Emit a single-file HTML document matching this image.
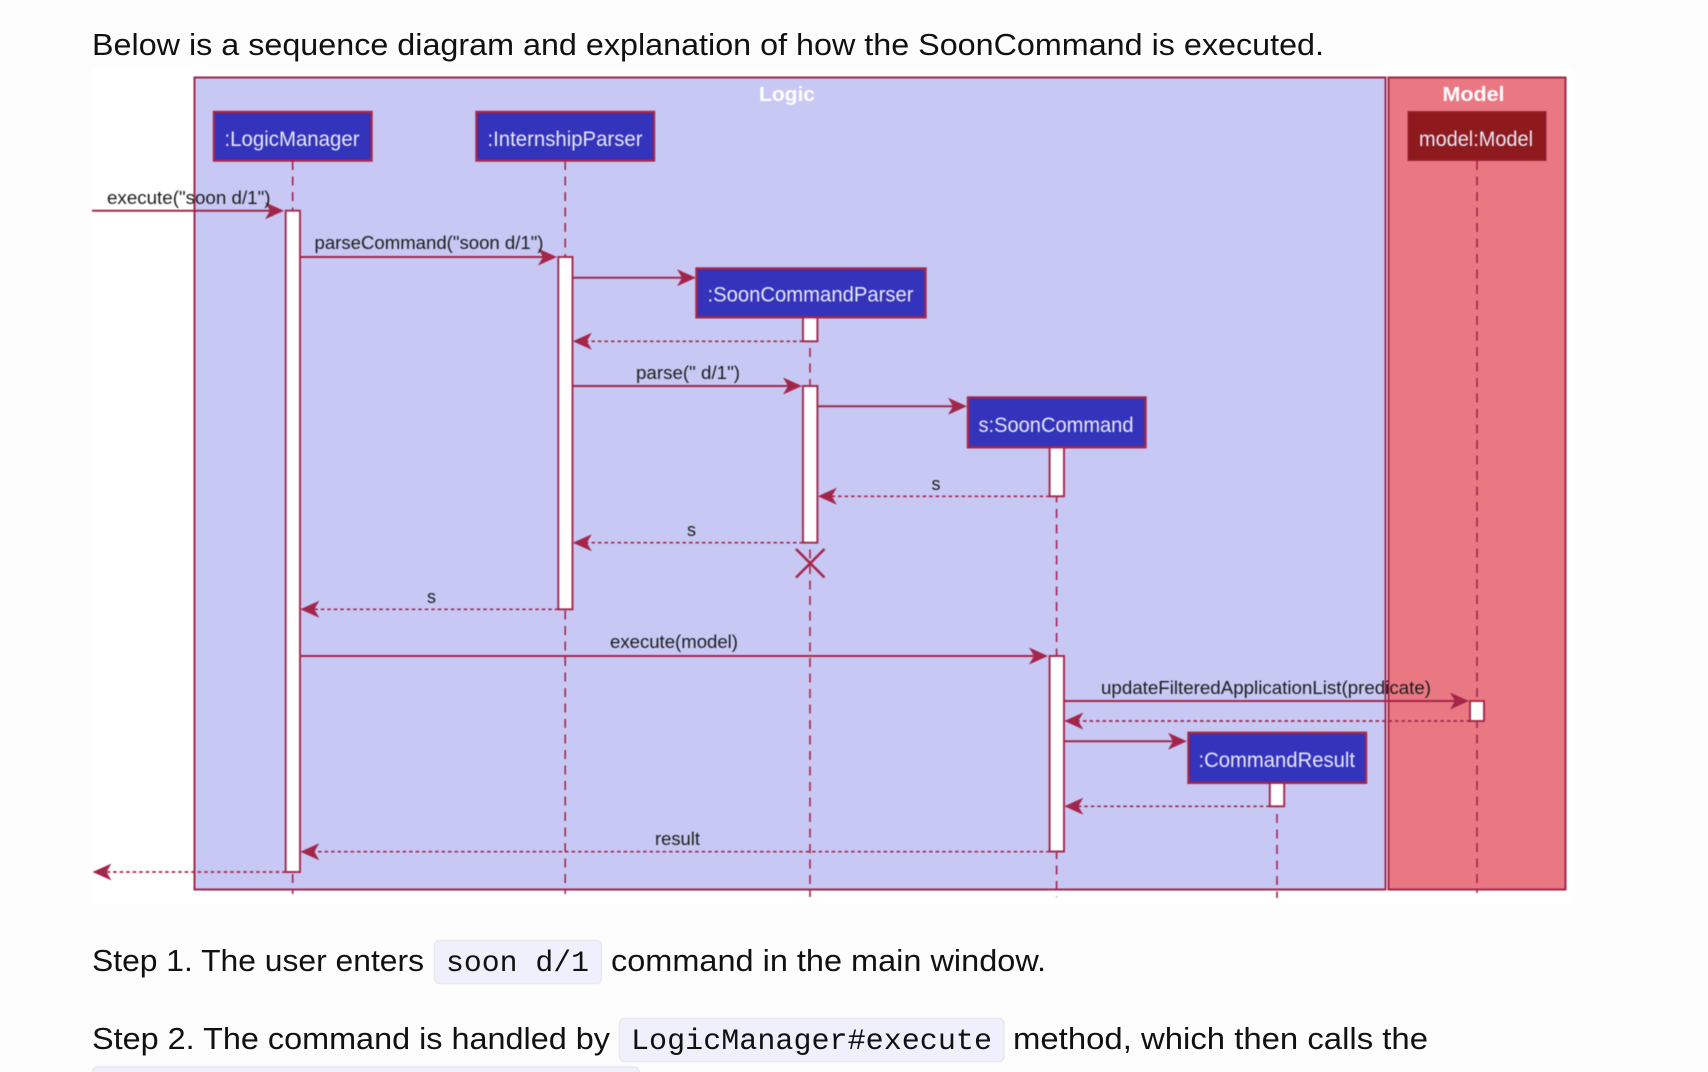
<!DOCTYPE html>
<html lang="en">
<head>
<meta charset="utf-8">
<title>SoonCommand sequence diagram</title>
<style>
html,body{margin:0;padding:0;background:#fdfdfd;width:1708px;height:1072px;overflow:hidden}
svg{display:block;position:absolute;left:0;top:0}
.d{filter:blur(.55px)}
.p{font-family:"Liberation Sans",sans-serif;font-size:31px;fill:#111}
.c{font-family:"Liberation Mono",monospace;font-size:30px;fill:#111}
.l{font-family:"Liberation Sans",sans-serif;font-size:18.5px;fill:#1c1c1c}
.n{font-family:"Liberation Sans",sans-serif;font-size:21px;fill:#e8e8fa}
.t{font-family:"Liberation Sans",sans-serif;font-size:20px;font-weight:bold;fill:#fff}
.ll{stroke:#a3234f;stroke-width:1.6;stroke-dasharray:9 6.5;fill:none}
.box{fill:#3333bb;stroke:#a3264a;stroke-width:2.4}
.act{fill:#fff;stroke:#a3264a;stroke-width:1.9}
.m{stroke:#a3264a;stroke-width:2;fill:none}
.r{stroke:#a3264a;stroke-width:1.7;stroke-dasharray:3.5 3;fill:none}
.h{fill:#a3264a;stroke:none}
</style>
</head>
<body>
<svg width="1708" height="1072" viewBox="0 0 1708 1072" xmlns="http://www.w3.org/2000/svg">
<rect x="92" y="68" width="1480" height="837" fill="#fff"/>
<text class="p" x="92" y="55" textLength="1232" lengthAdjust="spacingAndGlyphs">Below is a sequence diagram and explanation of how the SoonCommand is executed.</text>

<g class="d">
<rect x="194.500" y="77.500" width="1191" height="812" fill="#c8c8f5" stroke="#a3264a" stroke-width="2"/>
<rect x="1388.500" y="77.500" width="177" height="812" fill="#e97882" stroke="#a3264a" stroke-width="2"/>
<text class="t" x="759" y="101" textLength="56" lengthAdjust="spacingAndGlyphs">Logic</text>
<text class="t" x="1442.500" y="101" textLength="62" lengthAdjust="spacingAndGlyphs">Model</text>

<path class="ll" d="M292.700 161V894"/>
<path class="ll" d="M565.200 161V894"/>
<path class="ll" d="M810 317V897"/>
<path class="ll" d="M1056.600 447V897"/>
<path class="ll" d="M1277 783V898"/>
<path class="ll" d="M1477 161V893"/>

<rect class="box" x="214" y="112" width="157.500" height="48.500"/>
<rect class="box" x="476.500" y="112" width="177.500" height="48.500"/>
<rect class="box" x="696.500" y="268.500" width="229" height="48.800"/>
<rect class="box" x="968" y="397.500" width="177.500" height="49.800"/>
<rect class="box" x="1188.500" y="732.800" width="177.500" height="50"/>
<rect x="1408" y="111.500" width="138" height="49" fill="#8f1a1d" stroke="#a0243a" stroke-width="1"/>

<text class="n" x="224.500" y="146" textLength="135" lengthAdjust="spacingAndGlyphs">:LogicManager</text>
<text class="n" x="487.500" y="146" textLength="155" lengthAdjust="spacingAndGlyphs">:InternshipParser</text>
<text class="n" x="707.500" y="301.500" textLength="206" lengthAdjust="spacingAndGlyphs">:SoonCommandParser</text>
<text class="n" x="978.500" y="432" textLength="155" lengthAdjust="spacingAndGlyphs">s:SoonCommand</text>
<text class="n" x="1198.500" y="767" textLength="156.500" lengthAdjust="spacingAndGlyphs">:CommandResult</text>
<text class="n" x="1419" y="146" textLength="114" lengthAdjust="spacingAndGlyphs">model:Model</text>

<rect class="act" x="285.700" y="210.700" width="14.300" height="661.300"/>
<rect class="act" x="558.300" y="257" width="14.200" height="352.300"/>
<rect class="act" x="803" y="317.500" width="14.400" height="23.800"/>
<rect class="act" x="803" y="386" width="14.400" height="156.700"/>
<rect class="act" x="1049.600" y="447.500" width="14.400" height="48.800"/>
<rect class="act" x="1049.600" y="656" width="14.400" height="195.500"/>
<rect class="act" x="1470" y="701" width="14" height="20"/>
<rect class="act" x="1269.800" y="783" width="14.400" height="23.300"/>

<path d="M796 549L824.500 577.500M824.500 549L796 577.500" stroke="#a3264a" stroke-width="2.600" fill="none"/>

<!-- solid messages -->
<path class="m" d="M92 210.700H278"/>
<path class="h" d="M284 210.700l-19-8.500l5 8.500l-5 8.500z"/>
<path class="m" d="M300 257H551"/>
<path class="h" d="M557 257l-19-8.500l5 8.500l-5 8.500z"/>
<path class="m" d="M572.500 277.700H690"/>
<path class="h" d="M696 277.700l-19-8.500l5 8.500l-5 8.500z"/>
<path class="m" d="M572.500 386H796"/>
<path class="h" d="M802 386l-19-8.500l5 8.500l-5 8.500z"/>
<path class="m" d="M817.500 406.300H961"/>
<path class="h" d="M967 406.300l-19-8.500l5 8.500l-5 8.500z"/>
<path class="m" d="M300 656H1042"/>
<path class="h" d="M1048 656l-19-8.500l5 8.500l-5 8.500z"/>
<path class="m" d="M1064 701H1463"/>
<path class="h" d="M1469 701l-19-8.500l5 8.500l-5 8.500z"/>
<path class="m" d="M1064 741.300H1181"/>
<path class="h" d="M1187 741.300l-19-8.500l5 8.500l-5 8.500z"/>

<!-- dashed returns -->
<path class="r" d="M803 341.300H578"/>
<path class="h" d="M572.800 341.300l19-8.500l-5 8.500l5 8.500z"/>
<path class="r" d="M1049.600 496.300H823"/>
<path class="h" d="M817.800 496.300l19-8.500l-5 8.500l5 8.500z"/>
<path class="r" d="M803 542.700H578"/>
<path class="h" d="M572.800 542.700l19-8.500l-5 8.500l5 8.500z"/>
<path class="r" d="M558.300 609.300H305"/>
<path class="h" d="M300.300 609.300l19-8.500l-5 8.500l5 8.500z"/>
<path class="r" d="M1470 721H1069"/>
<path class="h" d="M1064.300 721l19-8.500l-5 8.500l5 8.500z"/>
<path class="r" d="M1269.800 806.300H1069"/>
<path class="h" d="M1064.300 806.300l19-8.500l-5 8.500l5 8.500z"/>
<path class="r" d="M1049.600 851.700H305"/>
<path class="h" d="M300.300 851.700l19-8.500l-5 8.500l5 8.500z"/>
<path class="r" d="M285.700 872H98"/>
<path class="h" d="M92.500 872l19-8.500l-5 8.500l5 8.500z"/>

<text class="l" x="107" y="204" textLength="163.500" lengthAdjust="spacingAndGlyphs">execute("soon d/1")</text>
<text class="l" x="314.500" y="249" textLength="229" lengthAdjust="spacingAndGlyphs">parseCommand("soon d/1")</text>
<text class="l" x="636" y="379" textLength="104" lengthAdjust="spacingAndGlyphs">parse(" d/1")</text>
<text class="l" x="931.500" y="490" textLength="9" lengthAdjust="spacingAndGlyphs">s</text>
<text class="l" x="687" y="536" textLength="9" lengthAdjust="spacingAndGlyphs">s</text>
<text class="l" x="427" y="603" textLength="9" lengthAdjust="spacingAndGlyphs">s</text>
<text class="l" x="610" y="648" textLength="128" lengthAdjust="spacingAndGlyphs">execute(model)</text>
<text class="l" x="1101" y="694" textLength="330" lengthAdjust="spacingAndGlyphs">updateFilteredApplicationList(predicate)</text>
<text class="l" x="655" y="845" textLength="45" lengthAdjust="spacingAndGlyphs">result</text>
</g>

<text class="p" x="92" y="971" textLength="332" lengthAdjust="spacingAndGlyphs">Step 1. The user enters</text>
<rect x="434.500" y="940.500" width="167" height="43" rx="5" fill="#f0f0fc" stroke="#e8e8ee" stroke-width="1.500"/>
<text class="c" x="446" y="971" textLength="143" lengthAdjust="spacingAndGlyphs">soon d/1</text>
<text class="p" x="611" y="971" textLength="435" lengthAdjust="spacingAndGlyphs">command in the main window.</text>

<text class="p" x="92" y="1049" textLength="518" lengthAdjust="spacingAndGlyphs">Step 2. The command is handled by</text>
<rect x="619.500" y="1018.500" width="384.500" height="43" rx="5" fill="#f0f0fc" stroke="#e8e8ee" stroke-width="1.500"/>
<text class="c" x="631" y="1049" textLength="361" lengthAdjust="spacingAndGlyphs">LogicManager#execute</text>
<text class="p" x="1013" y="1049" textLength="415" lengthAdjust="spacingAndGlyphs">method, which then calls the</text>
<rect x="92.500" y="1067" width="546.500" height="20" rx="5" fill="#f0f0fc" stroke="#e8e8ee" stroke-width="1.500"/>
</svg>
</body>
</html>
